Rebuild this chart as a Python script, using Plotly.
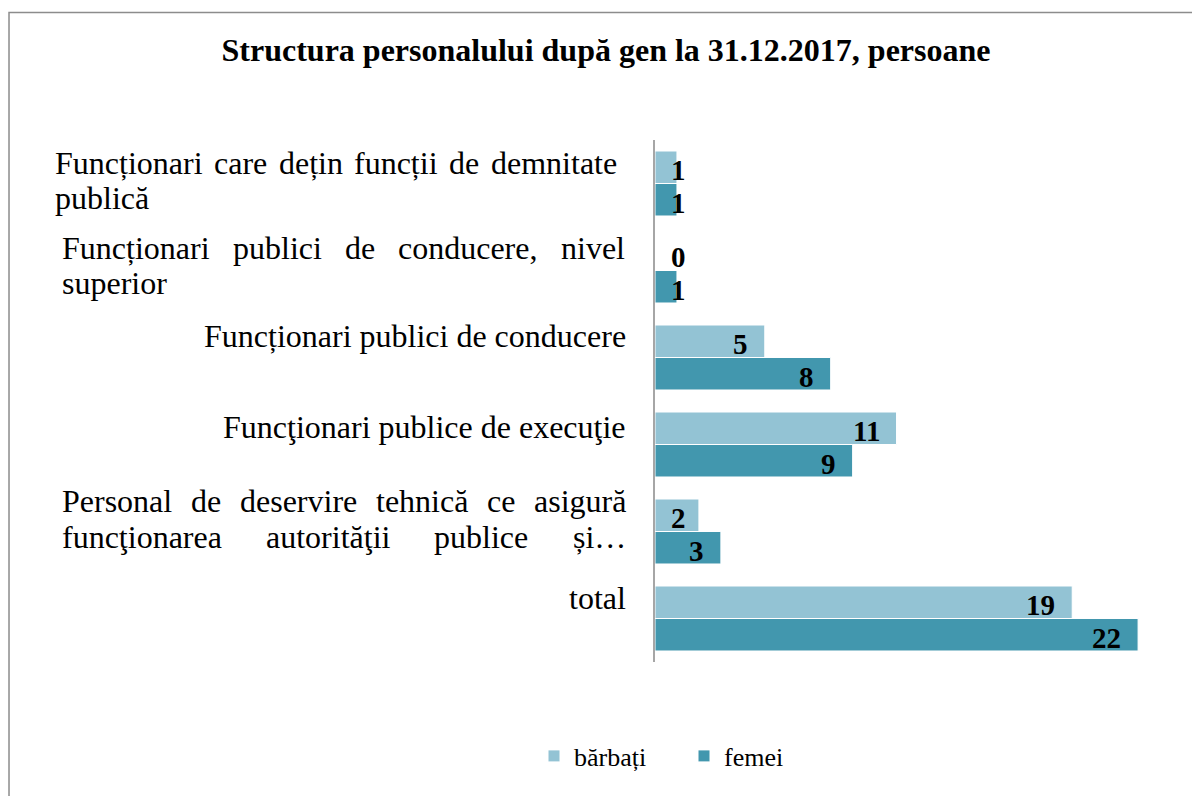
import plotly.graph_objects as go

# ---- data -------------------------------------------------------------
categories = [
    "Funcționari care dețin funcții de demnitate publică",
    "Funcționari publici de conducere, nivel superior",
    "Funcționari publici de conducere",
    "Funcţionari publice de execuţie",
    "Personal de deservire tehnică ce asigură funcţionarea autorităţii publice și…",
    "total",
]
# how each category label wraps on the left side
label_lines = [
    ["Funcționari care dețin funcții de demnitate", "publică"],
    ["Funcționari publici de conducere, nivel", "superior"],
    ["Funcționari publici de conducere"],
    ["Funcţionari publice de execuţie"],
    ["Personal de deservire tehnică ce asigură", "funcţionarea autorităţii publice și…"],
    ["total"],
]
barbati = [1, 0, 5, 11, 2, 19]
femei = [1, 1, 8, 9, 3, 22]
series_names = ["bărbați", "femei"]
title_text = "Structura personalului după gen la 31.12.2017, persoane"

# ---- layout constants (pixels) ----------------------------------------
W, H = 1192, 796
PL, PR = 655, 1181.6      # plot area left / right
PT, PB = 140, 662         # plot area top / bottom
X_MAX = 24
BARGAP = 0.253
FONT = "'Liberation Serif', 'Times New Roman', serif"
LABEL_SIZE = 32
VALUE_SIZE = 29
LIGHT, DARK = "#93C3D4", "#4297AE"

# category label layout: alignment, left edge, right edge, first baseline offset
label_style = [
    ("justify", 55, 617, -10),
    ("justify", 62, 625, -12),
    ("right", None, 626, -10.5),
    ("right", None, 626, -7),
    ("justify_all", 62, 626, -19.5),
    ("right", None, 626, -10),
]
LINE_PITCH = 35.5

# Times New Roman advance widths (1/1000 em) for the glyphs used
ADV = {
    " ": 250, ",": 250, ".": 250, "…": 1000,
    "a": 444, "b": 500, "c": 444, "d": 500, "e": 444, "f": 333, "g": 500,
    "h": 500, "i": 278, "l": 278, "m": 778, "n": 500, "o": 500, "p": 500,
    "r": 333, "s": 389, "t": 278, "u": 500, "v": 500,
    "F": 556, "P": 556,
    "ă": 444, "ț": 278, "ţ": 278, "ș": 389, "ş": 389,
}


def text_width(s, size):
    return sum(ADV.get(ch, 500) for ch in s) * size / 1000.0


plot_w = PR - PL
plot_h = PB - PT
slot = plot_h / len(categories)
bar_h = slot * (1 - BARGAP) / 2

fig = go.Figure()
for name, vals, col in [(series_names[0], barbati, LIGHT), (series_names[1], femei, DARK)]:
    fig.add_trace(go.Bar(
        name=name, y=categories, x=vals, orientation="h",
        marker=dict(color=col, line=dict(color="white", width=1)),
        hoverinfo="x+y",
    ))

annotations = []

# value labels near the end of each bar
LABEL_MIN_X = 2.2
PAD = 15
VALUE_DROP = 3
for vals, dy in [(barbati, bar_h / 2), (femei, -bar_h / 2)]:
    for cat, v in zip(categories, vals):
        annotations.append(dict(
            x=max(v, LABEL_MIN_X), y=cat, xref="x", yref="y",
            text=str(v), showarrow=False, xanchor="right", yanchor="middle",
            xshift=-PAD, yshift=dy - VALUE_DROP,
            font=dict(family=FONT, size=VALUE_SIZE, color="black", weight="bold"),
        ))

# category labels on the left, justified like a text box
center_shift = (0.891 - 0.216) / 2 * LABEL_SIZE


def add_text(cat, txt, px_left, off, anchor="left"):
    annotations.append(dict(
        x=0, y=cat, xref="paper", yref="y", text=txt, showarrow=False,
        xanchor=anchor, yanchor="middle",
        xshift=px_left - PL + (-2 if anchor == "left" else 2),
        yshift=-(off - center_shift),
        font=dict(family=FONT, size=LABEL_SIZE, color="black"),
    ))


for cat, lines, (mode, left, right, off0) in zip(categories, label_lines, label_style):
    for k, line in enumerate(lines):
        off = off0 + k * LINE_PITCH
        last = k == len(lines) - 1
        if mode == "right":
            add_text(cat, line, right, off, anchor="right")
        elif mode == "justify" and last:
            add_text(cat, line, left, off)
        else:
            words = line.split(" ")
            widths = [text_width(w, LABEL_SIZE) for w in words]
            gap = (right - left - sum(widths)) / max(len(words) - 1, 1)
            x = left
            for w, ww in zip(words, widths):
                add_text(cat, w, x, off)
                x += ww + gap

# chart frame
shapes = [dict(
    type="rect", xref="paper", yref="paper",
    x0=(9.5 - PL) / plot_w, x1=(W + 20 - PL) / plot_w,
    y0=(PB - (H + 20)) / plot_h, y1=(PB - 12.5) / plot_h,
    line=dict(color="#8C8C8C", width=1.5), fillcolor="rgba(0,0,0,0)", layer="below",
)]

fig.update_layout(
    width=W, height=H,
    margin=dict(l=PL, r=W - PR, t=PT, b=H - PB, pad=0),
    paper_bgcolor="white", plot_bgcolor="white",
    barmode="group", bargap=BARGAP, bargroupgap=0,
    title=dict(
        text=title_text, xref="container", yref="container",
        x=606 / W, xanchor="center", y=1 - 50 / H, yanchor="middle",
        font=dict(family=FONT, size=32, color="black", weight="bold"),
    ),
    xaxis=dict(range=[0, X_MAX], visible=False, fixedrange=True),
    yaxis=dict(
        type="category", categoryorder="array", categoryarray=categories,
        autorange="reversed", showticklabels=False, ticks="",
        showline=True, linecolor="#A6A6A6", linewidth=1.5,
        showgrid=False, zeroline=False, fixedrange=True,
    ),
    legend=dict(
        orientation="h", xref="container", yref="container",
        x=534 / W, xanchor="left", y=1 - 756 / H, yanchor="middle",
        font=dict(family=FONT, size=26, color="black"),
        entrywidth=105, entrywidthmode="pixels", bgcolor="rgba(0,0,0,0)",
    ),
    annotations=annotations,
    shapes=shapes,
    showlegend=True,
)

fig.write_html("out.html")
